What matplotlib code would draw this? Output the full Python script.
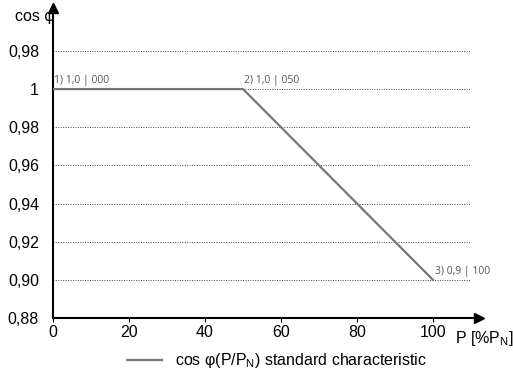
import matplotlib
matplotlib.use('Agg')
import matplotlib.pyplot as plt

# characteristic points (P in %P_N, cos phi)
p_vals = [0, 50, 100]
cos_vals = [1.0, 1.0, 0.90]
point_labels = ['1) 1,0 | 000', '2) 1,0 | 050', '3) 0,9 | 100']

x_ticks = [0, 20, 40, 60, 80, 100]
y_ticks = [0.88, 0.90, 0.92, 0.94, 0.96, 0.98, 1.00, 1.02]
y_ticklabels = ['0,88', '0,90', '0,92', '0,94', '0,96', '0,98', '1', '0,98']
grid_levels = [0.90, 0.92, 0.94, 0.96, 0.98, 1.00, 1.02]

plt.rcParams['font.family'] = ['Liberation Sans', 'DejaVu Sans']

fig = plt.figure(figsize=(5.13, 3.74), dpi=100)
ax = fig.add_axes([53 / 513, 56 / 374, 425.6 / 513, 310 / 374])
ax.set_xlim(0, 112)
ax.set_ylim(0.88, 1.0425)

# dotted grid lines
ax.hlines(grid_levels, 0, 110, colors='#444444', linestyles=(0, (1, 1.5)), linewidth=0.7, zorder=1)

# characteristic line
line, = ax.plot(p_vals, cos_vals, color='#777777', lw=1.6, zorder=3,
                label='cos \u03c6(P/P$_\\mathregular{N}$) standard characteristic')

# point labels
for px, py, lab in zip(p_vals, cos_vals, point_labels):
    dx = 0.5 if px == 100 else 0.3
    ax.text(px + dx, py + 0.0015, lab, fontsize=7.5,
            color='#555555', family='Open Sans', ha='left', va='bottom')

# axes style
for s in ['top', 'right']:
    ax.spines[s].set_visible(False)
for s in ['left', 'bottom']:
    ax.spines[s].set_linewidth(1.5)
    ax.spines[s].set_color('black')

ax.set_xticks(x_ticks)
ax.set_xticklabels([str(v) for v in x_ticks], fontsize=11.5)
ax.set_yticks(y_ticks)
ax.set_yticklabels(y_ticklabels, fontsize=11.5)
ax.tick_params(axis='x', length=3, width=0.8, pad=2)
ax.tick_params(axis='y', length=0, pad=10)

# arrow heads
ax.plot(1, 0, '>k', ms=7, transform=ax.transAxes, clip_on=False)
ax.plot(0, 1, '^k', ms=7, transform=ax.transAxes, clip_on=False)

ax.text(0.3, 1.0383, 'cos \u03c6', fontsize=11.5, ha='right', va='center')
ax.text(105.8, 0.8695, 'P [%P$_\\mathregular{N}$]', fontsize=11.5, ha='left', va='center')

fig.legend(handles=[line], loc='center', bbox_to_anchor=(277 / 513, 1 - 361 / 374),
           frameon=False, fontsize=11.5, handlelength=2.2)

fig.savefig('out.png', dpi=100)
